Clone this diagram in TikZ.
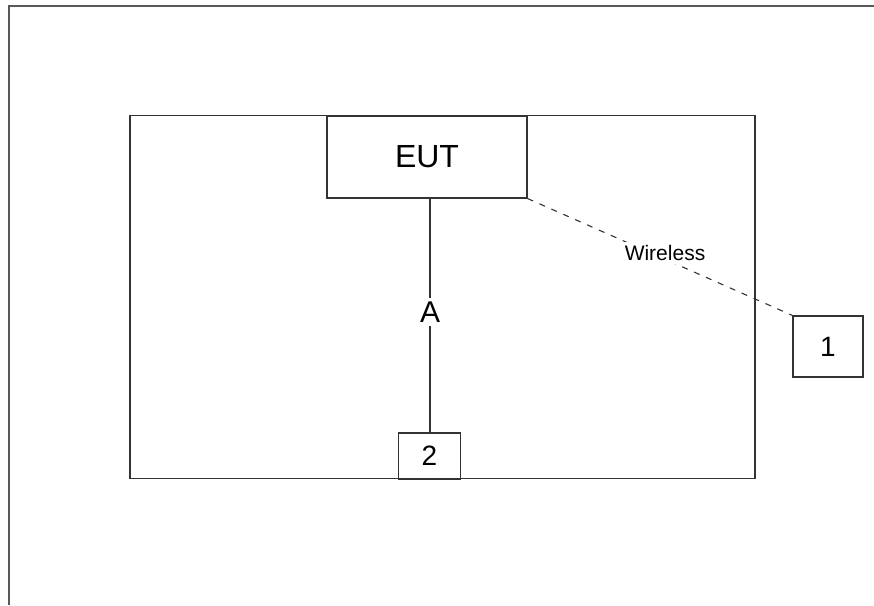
\documentclass[tikz,border=0pt]{standalone}
\usepackage{fontspec}
\setmainfont{Liberation Sans}
\begin{document}
\begin{tikzpicture}[x=1pt,y=-1pt,
  ln/.style={draw=black!80, line width=1.1pt},
  frame/.style={draw=black!65, line width=1.8pt},
  boxn/.style={ln, rectangle, inner sep=0pt, font=\fontsize{28}{30}\selectfont},
  lbl/.style={fill=white, inner sep=3pt},
  wl/.style={ln, dash pattern=on 6pt off 7pt}]
\useasboundingbox (0,0) rectangle (874,605);
\fill[white] (0,0) rectangle (874,605);
% outer frame (only top and left edges visible)
\coordinate (ftl) at (9,6);
\coordinate (ftr) at (874,6);
\coordinate (fbl) at (9,605);
\draw[frame] (ftr) -- (ftl) -- (fbl);
% main room
\node[ln, rectangle, minimum width=625pt, minimum height=363pt, inner sep=0pt] (room) at (442.5,297) {};
% EUT
\node[boxn, minimum width=200pt, minimum height=82pt, font=\fontsize{32}{34}\selectfont] (eut) at (427,157) {EUT};
% boxes
\node[boxn, minimum width=70pt, minimum height=61pt] (b1) at (828,346.5) {1};
\node[boxn, minimum width=62pt, minimum height=46pt] (b2) at (429.5,456) {2};
% cable A
\draw[ln] (430,198) coordinate (ea) -- (430,433) coordinate (ba);
\node[lbl, font=\fontsize{30}{32}\selectfont, inner sep=4pt] (la) at (430,312) {A};
% wireless link
\draw[wl] (eut.south east) -- (b1.north west);
\node[lbl, font=\fontsize{21}{23}\selectfont] (lw) at (665,253) {Wireless};
\end{tikzpicture}
\end{document}
